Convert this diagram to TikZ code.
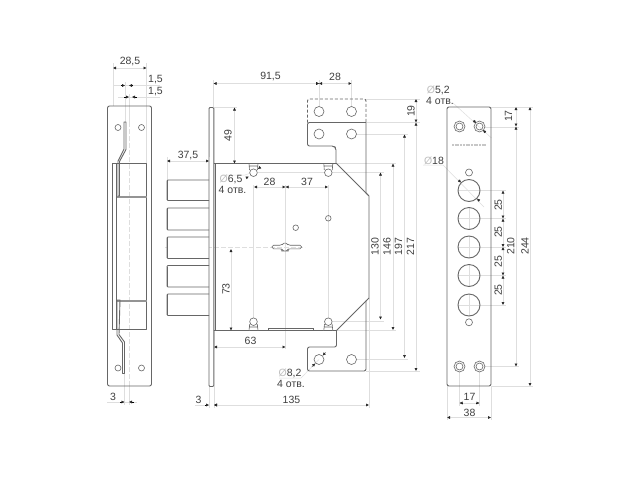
\documentclass[tikz,border=0pt]{standalone}
\usepackage{fontspec}
\setmainfont{Liberation Sans}
\usetikzlibrary{arrows.meta}
\definecolor{ink}{HTML}{666666}
\definecolor{ext}{HTML}{DEDEDE}
\definecolor{txt}{HTML}{404040}
\tikzset{
  part/.style={draw=ink,line width=0.9pt,line join=round},
  thin part/.style={draw=ink,line width=0.6pt},
  extline/.style={draw=ext,line width=0.5pt},
  centerline/.style={draw=ext,line width=0.5pt,dash pattern=on 5pt off 2pt},
  dimline/.style={draw=ext,line width=0.5pt,{Latex[length=3pt,width=3pt,black!85]}-{Latex[length=3pt,width=3pt,black!85]}},
  tipin/.style={{Latex[length=3pt,width=3pt,black!85]}-},
  lab/.style={font=\fontsize{10.5}{11}\selectfont,text=txt,inner sep=0pt},
  rlab/.style={lab,rotate=90}
}
\begin{document}
\begin{tikzpicture}[x=1pt,y=-1pt]
\useasboundingbox[fill=white] (0,0) rectangle (640,480);
% ---------- extension lines
\draw[extline] (113,63) -- (113,106) (146.5,63) -- (146.5,163);
\draw[extline] (113,85.5) -- (160,85.5) (118,97) -- (160,97);
\draw[extline] (125,82) -- (125,122) (129,94) -- (129,122);
\draw[centerline] (129,108) -- (129,385);
\draw[extline] (124.5,373) -- (124.5,405) (129,385) -- (129,405) (107,402) -- (137,402);
\draw[extline] (167,157) -- (167,180) (209,157) -- (209,107);
\draw[extline] (213.5,80) -- (213.5,107);
\draw[extline] (319,80) -- (319,106) (351.5,80) -- (351.5,106);
\draw[extline] (214,107.5) -- (237,107.5);
\draw[extline] (253.5,185) -- (253.5,318) (285.5,185) -- (285.5,349) (328,185) -- (328,318);
\draw[extline] (258,172.5) -- (384,172.5) (330,163.5) -- (396,163.5);
\draw[extline] (356,134) -- (408,134) (366,99) -- (420,99) (366,122.5) -- (420,122.5);
\draw[extline] (332,321.5) -- (384,321.5) (336,330.5) -- (396,330.5);
\draw[extline] (356,359.5) -- (408,359.5) (366,371) -- (420,371);
\draw[centerline] (165,247) -- (305,247);
\draw[extline] (209,386) -- (209,408) (214,386) -- (214,408) (369,298) -- (369,408);
\draw[extline] (195,405) -- (209,405);
\draw[extline] (214,349) -- (214,330);
% right plate extension
\draw[extline] (491,107) -- (533,107) (484,127) -- (519,127) (491,386) -- (533,386) (484,366.5) -- (519,366.5);
\draw[extline] (458,190.5) -- (506,190.5) (458,218.5) -- (506,218.5) (458,247) -- (506,247) (458,275.5) -- (506,275.5) (458,305) -- (506,305);
\draw[extline] (469,207) -- (469,230) (469,236) -- (469,258) (469,264) -- (469,287) (469,294) -- (469,316);
\draw[extline] (459.5,372) -- (459.5,406) (479.5,372) -- (479.5,406) (447,386) -- (447,420) (491,386) -- (491,420);
% leaders
\draw[extline] (279,378) -- (301,378) -- (319,359.5);
\draw[extline] (453,103) -- (491.5,138);
\draw[extline] (423,165) -- (443,165) -- (484,207);
\draw[extline] (222,175) -- (245,175) -- (253.5,172);
% ---------- left view
\draw[part,rounded corners=2pt] (107.5,106) rectangle (151.5,386);
\draw[thin part] (118,127.5) circle (3) (141.5,127.5) circle (3) (118,368) circle (3) (141.5,368) circle (3);
\draw[part] (112.5,163.5) rectangle (146.5,329.5);
\draw[thin part] (116.5,163.5) -- (116.5,329.5);
\draw[draw=ink!70,line width=1.6pt] (116.5,196.7) -- (146.5,196.7) (116.5,300.8) -- (146.5,300.8);
\draw[part] (124,122) -- (124,149) -- (118,161) -- (118,196) -- (119.5,196) -- (119.5,161.5) -- (126,149.5) -- (126,122) -- cycle;
\draw[part] (117,300) -- (117,335) -- (122.5,343) -- (122.5,373.5) -- (124.5,373.5) -- (124.5,342) -- (119,334.5) -- (120,300) -- cycle;
% ---------- bolts
\foreach \a/\b in {180/200.5,208/230,237/258.5,265.5/287,294/315.5}{
  \draw[part,fill=white,rounded corners=1pt] (209,\a) -- (167,\a) -- (167,\b) -- (209,\b);
  \draw[thin part,line width=1.4pt] (167.6,\a+1) -- (167.6,\b-1);
}
% ---------- lock body
\draw[part,rounded corners=1pt] (209,386.5) -- (209,107.5) -- (213.8,107.5) -- (213.8,386.5) -- cycle;
\draw[thin part] (215.5,163.5) -- (215.5,330.5);
\draw[part] (213.8,163.5) -- (336.5,163.5) -- (369,196) -- (369,298) -- (336.5,330.5) -- (213.8,330.5);
\draw[part] (368,195) -- (366,193) -- (366,122.5);
\draw[part,rounded corners=2pt] (366,122.5) -- (307.5,122.5) -- (307.5,146) -- (334,146) -- (336,148) -- (336,163.5);
\draw[part,dash pattern=on 3pt off 2pt,rounded corners=2pt] (307.5,122.5) -- (307.5,99) -- (366,99) -- (366,122.5);
\draw[part,rounded corners=2pt] (336.5,330.5) -- (336.5,347) -- (307.5,347) -- (307.5,371) -- (366,371) -- (366,300.5);
\draw[thin part] (319,111.5) circle (5) (351.5,111.5) circle (5) (319,134) circle (5) (351.5,134) circle (5) (319,359.5) circle (5) (351.5,359.5) circle (5);
% pins
\foreach \x in {253.5,328.3}{
  \draw[thin part] (\x-4.5,163.5) -- (\x-4,170) (\x+4.5,163.5) -- (\x+4,170) (\x-4.3,166) -- (\x+4.3,166);
  \draw[thin part,fill=white] (\x,172.7) circle (3.8);
  \draw[thin part,fill=white] (\x-4.5,330.5) -- (\x-3.8,324) (\x+4.5,330.5) -- (\x+3.8,324) (\x-4.2,327) -- (\x+4.2,327);
  \draw[thin part,fill=white] (\x,321.7) circle (3.8);
}
\draw[thin part] (268,330.5) -- (268,328.5) -- (313.5,328.5) -- (313.5,330.5);
\draw[thin part] (295.7,227.7) circle (2.8) (328.3,218.3) circle (2.8);
% keyhole
\draw[thin part,rounded corners=1.5pt] (272,245.2) -- (281.5,245.2) -- (283,243.8) to[out=30,in=150] (287,243.8) -- (288.5,245.2) -- (301.5,245.2) -- (301.5,248.8) -- (288.5,248.8) -- (287,250.2) to[out=-30,in=-150] (283,250.2) -- (281.5,248.8) -- (272,248.8) -- cycle;
% ---------- right plate
\draw[part,rounded corners=2pt] (447,107) rectangle (491,386);
\foreach \x/\y in {459.5/126.5,479.5/126.5,459.5/366.5,479.5/366.5}{
  \draw[thin part] (\x,\y) circle (5.5) (\x,\y) circle (3.5);
}
\draw[thin part] (469,172.5) circle (3.5) (469,322.3) circle (3.5);
\foreach \y in {190.5,218.5,247,275.5,305}{\draw[part] (469,\y) circle (11);}
\draw[draw=black!22,line width=2pt,dash pattern=on 2pt off 0.7pt] (452,145) -- (487,145);
% ---------- dimensions
\draw[dimline] (113,68) -- (146.5,68);
\node[lab] (t285) at (130,62) {28,5};
\draw[tipin] (125,85.5) -- (121,85.5); \draw[tipin] (129,85.5) -- (133,85.5);
\node[lab] (t15a) at (155.5,80) {1,5};
\draw[tipin] (129,97) -- (124,97); \draw[tipin] (132,97) -- (137,97);
\node[lab] (t15b) at (155.5,91.5) {1,5};
\draw[tipin] (124.5,402) -- (120,402); \draw[tipin] (129,402) -- (134,402);
\node[lab] (t3a) at (113,396.5) {3};
\draw[dimline] (167,161) -- (209,161);
\node[lab] (t375) at (188,156) {37,5};
\draw[dimline] (213.5,83.5) -- (319,83.5);
\node[lab] (t915) at (270.5,77) {91,5};
\draw[tipin] (319,83.5) -- (316,83.5);
\draw[dimline] (319,83.5) -- (351.5,83.5);
\node[lab] (t28a) at (335,77) {28};
\draw[dimline] (234.5,107.5) -- (234.5,163.5);
\node[rlab] (t49) at (228,135.5) {49};
\node[lab] (t65) at (231,179.5) {\textcolor{black!25}{Ø}6,5};
\node[lab] (t65b) at (232.5,189.5) {4 отв.};
\draw[tipin] (248.8,176.5) -- (246,178); \draw[tipin] (258,169) -- (260,167.5);
\draw[dimline] (254,187) -- (285.5,187);
\node[lab] (t28b) at (269.5,181.5) {28};
\draw[dimline] (285.5,187) -- (328,187);
\node[lab] (t37) at (307,181.5) {37};
\draw[dimline] (231,249) -- (231,330.5);
\node[rlab] (t73) at (226,289) {73};
\draw[dimline] (214,347) -- (285.5,347);
\node[lab] (t63) at (250.5,341) {63};
\node[lab] (t82) at (290,373.3) {\textcolor{black!25}{Ø}8,2};
\node[lab] (t82b) at (291,384.3) {4 отв.};
\draw[tipin] (315.3,363.5) -- (312,366.5); \draw[tipin] (322.7,355.5) -- (325.5,352.5);
\draw[tipin] (209,405) -- (205,405); \draw[tipin] (214,405) -- (218,405);
\node[lab] (t3b) at (198.5,399.5) {3};
\draw[dimline] (214,405) -- (369,405);
\node[lab] (t135) at (291.5,399.5) {135};
\draw[dimline] (380.5,172.5) -- (380.5,319.5);
\node[rlab] (t130) at (375,246.7) {130};
\draw[dimline] (393,163.5) -- (393,330);
\node[rlab] (t146) at (387,246.7) {146};
\draw[dimline] (404.5,134.5) -- (404.5,358);
\node[rlab] (t197) at (398.5,246.7) {197};
\draw[dimline] (416,122.5) -- (416,371);
\node[rlab] (t217) at (410.5,246.7) {217};
\draw[dimline] (416,99) -- (416,122.5);
\node[rlab] (t19) at (411,111) {19};
% right plate dimensions
\node[lab] (t52) at (438.3,90) {\textcolor{black!25}{Ø}5,2};
\node[lab] (t52b) at (440,101) {4 отв.};
\draw[tipin] (476,123) -- (473.5,120.5); \draw[tipin] (483,130) -- (485.5,132.5);
\node[lab] (t18) at (434,160.5) {\textcolor{black!25}{Ø}18};
\draw[tipin] (461,182.5) -- (458.5,180); \draw[tipin] (477,198.5) -- (479.5,201);
\foreach \a/\b in {190.5/218.5,218.5/247,247/275.5,275.5/305}{\draw[dimline] (503,\a) -- (503,\b);}
\node[rlab] (t25a) at (498.3,205) {25};
\node[rlab] (t25b) at (498.3,232) {25};
\node[rlab] (t25c) at (498.3,261.5) {25};
\node[rlab] (t25d) at (498.3,290) {25};
\draw[dimline] (516,107) -- (516,126.5);
\node[rlab] (t17a) at (508.5,116) {17};
\draw[dimline] (516,126.5) -- (516,366.5);
\node[rlab] (t210) at (510.7,246) {210};
\draw[dimline] (530,107) -- (530,386);
\node[rlab] (t244) at (525,246) {244};
\draw[extline] (459.5,403) -- (479.5,403);
\draw[tipin] (459.5,403) -- (463,403); \draw[tipin] (479.5,403) -- (476,403);
\node[lab] (t17b) at (469.5,397) {17};
\draw[dimline] (447,417.5) -- (491,417.5);
\node[lab] (t38) at (469.5,412.5) {38};
\end{tikzpicture}
\end{document}
